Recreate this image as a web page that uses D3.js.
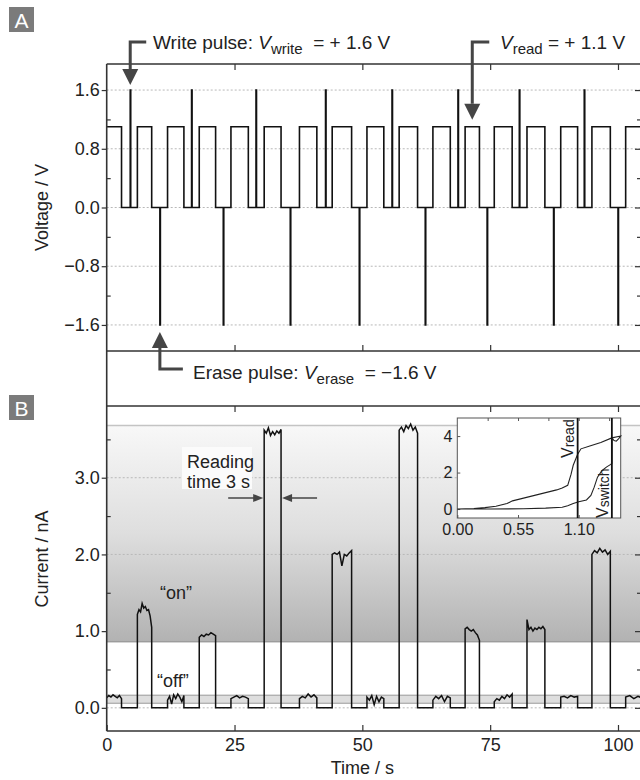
<!DOCTYPE html>
<html>
<head>
<meta charset="utf-8">
<script src="https://cdn.jsdelivr.net/npm/d3@7"></script>
<style>
  body { margin: 0; background: #fff; }
  svg { display: block; font-family: "Liberation Sans", Arial, Helvetica, sans-serif; }
</style>
</head>
<body>
<div id="chart"></div>
<script>
// read windows (s) and pulse times (s)
const readStart = [0, 6.0, 11.9, 18.1, 24.3, 30.8, 37.7, 44.1, 50.9, 57.2, 63.8, 70.1, 75.8, 82.2, 88.8, 94.9, 101.5];
const readEnd   = [2.9, 8.8, 15.1, 21.3, 27.7, 34.1, 41.1, 47.9, 54.2, 60.8, 67.2, 72.9, 79.3, 85.7, 92.1, 98.5, 105.5];
const writeTimes = [4.6, 16.6, 29.2, 42.8, 55.8, 68.7, 80.7, 93.4];
const eraseTimes = [10.4, 22.8, 35.9, 49.4, 62.3, 74.4, 87.4, 100.0];
const vRead = 1.1, vWrite = 1.6, vErase = -1.6;

// current samples (nA)
const readCurrent = [
  [0.13, 0.16, 0.14, 0.17, 0.15, 0.13, 0.16, 0.12],
  [1.22, 1.28, 1.25, 1.36, 1.30, 1.32, 1.27, 1.28, 1.20, 1.05],
  [0.10, 0.15, 0.05, 0.17, 0.12, 0.18, 0.14, 0.08, 0.16],
  [0.92, 0.95, 0.93, 0.96, 0.95, 0.98, 0.96, 0.94],
  [0.12, 0.14, 0.16, 0.13, 0.15, 0.14, 0.12],
  [3.62, 3.58, 3.65, 3.55, 3.60, 3.56, 3.61, 3.58, 3.63],
  [0.12, 0.15, 0.13, 0.18, 0.14, 0.17, 0.13],
  [2.00, 2.02, 2.00, 2.03, 1.85, 2.00, 1.98, 2.02, 2.05],
  [0.14, 0.10, 0.16, 0.04, 0.15, 0.08, 0.14, 0.12],
  [3.62, 3.66, 3.60, 3.68, 3.64, 3.70, 3.62, 3.66, 3.58],
  [0.10, 0.15, 0.12, 0.16, 0.08, 0.15, 0.13],
  [1.03, 1.05, 1.02, 1.00, 1.02, 0.98, 0.95, 0.88],
  [0.08, 0.12, 0.10, 0.15, 0.12, 0.17, 0.14, 0.18],
  [1.15, 1.02, 1.05, 1.00, 1.04, 1.02, 1.05, 1.03, 1.06, 1.02],
  [0.14, 0.15, 0.13, 0.16, 0.14, 0.15],
  [2.00, 2.05, 2.02, 2.08, 2.03, 2.06, 2.00, 2.04],
  [0.14, 0.16, 0.12, 0.15, 0.13, 0.16]
];

// inset I-V loop (V, nA)
const sweepV = [0, 0.3, 0.6, 0.8, 0.95, 1.0, 1.05, 1.1, 1.17, 1.21, 1.24, 1.27, 1.31, 1.35, 1.39, 1.40, 1.40, 1.42, 1.44, 1.46, 1.48,
                1.40, 1.30, 1.20, 1.12, 1.09, 1.07, 1.05, 1.03, 1.0, 0.95, 0.9, 0.8, 0.7, 0.6, 0.5, 0.45, 0.35, 0.25, 0.15, 0];
const sweepI = [0, 0.0, 0.02, 0.05, 0.1, 0.18, 0.3, 0.4, 0.5, 0.75, 1.2, 1.75, 2.1, 2.3, 2.45, 2.5, 3.9, 3.75, 3.72, 3.85, 4.0,
                3.9, 3.65, 3.45, 3.3, 3.0, 2.7, 2.4, 1.9, 1.3, 1.15, 1.05, 0.9, 0.75, 0.6, 0.45, 0.3, 0.15, 0.08, 0.03, 0];

const vTicks = [-1.6, -0.8, 0, 0.8, 1.6];
const vMinor = [-1.2, -0.4, 0.4, 1.2];
const iTicks = [0, 1, 2, 3];
const iMinor = [0.5, 1.5, 2.5, 3.5];
const tTicks = [0, 25, 50, 75, 100];
const insetXTicks = [0, 0.55, 1.10];
const insetYTicks = [0, 2, 4];
const onLevel = 0.86, topLevel = 3.68, offBand = [0.06, 0.165];

const W = 640, H = 780;
const left = 106.7, right = 641;
const svg = d3.select("#chart").append("svg").attr("width", W).attr("height", H);

const x = d3.scaleLinear().domain([0, 104.5]).range([left, right]);
const yV = d3.scaleLinear().domain([-1.955, 1.955]).range([351, 64]);
const yI = d3.scaleLinear().domain([-0.302, 3.935]).range([731, 406]);

const ink = "#333";
const fmt = d => d3.format(".1f")(d).replace("-", "\u2212");

const defs = svg.append("defs");
const grad = defs.append("linearGradient").attr("id", "shade")
  .attr("x1", 0).attr("x2", 0).attr("y1", 0).attr("y2", 1);
grad.append("stop").attr("offset", "0%").attr("stop-color", "#f8f8f8");
grad.append("stop").attr("offset", "50%").attr("stop-color", "#dedede");
grad.append("stop").attr("offset", "100%").attr("stop-color", "#b2b2b2");
defs.append("clipPath").attr("id", "clipA").append("rect")
  .attr("x", left).attr("y", yV.range()[1]).attr("width", right - left).attr("height", yV.range()[0] - yV.range()[1]);
defs.append("clipPath").attr("id", "clipB").append("rect")
  .attr("x", left).attr("y", yI.range()[1]).attr("width", right - left).attr("height", yI.range()[0] - yI.range()[1]);

// ---------- panel B background bands ----------
svg.append("rect").attr("x", left).attr("width", right - left)
  .attr("y", yI(topLevel)).attr("height", yI(onLevel) - yI(topLevel)).attr("fill", "url(#shade)");
svg.append("line").attr("x1", left).attr("x2", right).attr("y1", yI(topLevel)).attr("y2", yI(topLevel))
  .attr("stroke", "#c4c4c4").attr("stroke-width", 1.5);
svg.append("line").attr("x1", left).attr("x2", right).attr("y1", yI(onLevel)).attr("y2", yI(onLevel))
  .attr("stroke", "#8a8a8a").attr("stroke-width", 1);
svg.append("rect").attr("x", left).attr("width", right - left)
  .attr("y", yI(offBand[1])).attr("height", yI(offBand[0]) - yI(offBand[1]))
  .attr("fill", "#dedede").attr("stroke", "#9a9a9a").attr("stroke-width", 1);

// ---------- gridlines ----------
function grid(scale, vals) {
  svg.append("g").selectAll("line").data(vals).join("line")
    .attr("x1", left).attr("x2", right)
    .attr("y1", d => scale(d)).attr("y2", d => scale(d))
    .attr("stroke", "#b8b8b8").attr("stroke-width", 1).attr("stroke-dasharray", "2,2");
}
grid(yV, vTicks);
grid(yI, iTicks);

// ---------- voltage trace ----------
const spikes = writeTimes.map(t => ({t, v: vWrite})).concat(eraseTimes.map(t => ({t, v: vErase})));
const vPts = [];
readStart.forEach((s, i) => {
  if (i > 0) vPts.push([s, 0]);
  vPts.push([s, vRead], [readEnd[i], vRead], [readEnd[i], 0]);
  spikes.filter(p => p.t > readEnd[i] && (i === readStart.length - 1 || p.t < readStart[i + 1]))
    .forEach(p => vPts.push([p.t, 0], [p.t, p.v], [p.t + 0.1, p.v], [p.t + 0.1, 0]));
});
svg.append("path").attr("clip-path", "url(#clipA)")
  .attr("d", d3.line().x(d => x(d[0])).y(d => yV(d[1]))(vPts))
  .attr("fill", "none").attr("stroke", "#111").attr("stroke-width", 1.6);

// ---------- current trace ----------
const iPts = [];
readStart.forEach((s, i) => {
  const vals = readCurrent[i], e = readEnd[i];
  if (i > 0) iPts.push([s, 0]);
  vals.forEach((v, k) => iPts.push([s + k * (e - s) / (vals.length - 1), v]));
  iPts.push([e, 0]);
});
svg.append("path").attr("clip-path", "url(#clipB)")
  .attr("d", d3.line().x(d => x(d[0])).y(d => yI(d[1]))(iPts))
  .attr("fill", "none").attr("stroke", "#111").attr("stroke-width", 1.5);

// ---------- frames and axes ----------
function styleAxis(g) {
  g.select(".domain").remove();
  g.selectAll(".tick line").attr("stroke", ink).attr("stroke-width", 1.2);
  g.selectAll("text").attr("fill", "#222").style("font-size", "18px");
}
// x axes (ticks inward)
svg.append("g").attr("transform", `translate(0,${yI.range()[0]})`)
  .call(d3.axisBottom(x).tickValues(tTicks).tickSizeInner(-6).tickSizeOuter(0).tickPadding(7).tickFormat(d3.format("d")))
  .call(styleAxis);
[[yI.range()[1], d3.axisTop], [yV.range()[1], d3.axisTop], [yV.range()[0], d3.axisBottom]].forEach(([yy, ax]) => {
  svg.append("g").attr("transform", `translate(0,${yy})`)
    .call(ax(x).tickValues(tTicks.slice(1)).tickSizeInner(-6).tickSizeOuter(0).tickFormat(""))
    .call(styleAxis);
});
// y axes
svg.append("g").attr("transform", `translate(${left},0)`)
  .call(d3.axisLeft(yV).tickValues(vTicks).tickSize(5).tickPadding(2).tickFormat(fmt)).call(styleAxis);
svg.append("g").attr("transform", `translate(${left},0)`)
  .call(d3.axisLeft(yV).tickValues(vMinor).tickSize(-4).tickFormat("")).call(styleAxis);
svg.append("g").attr("transform", `translate(${left},0)`)
  .call(d3.axisLeft(yI).tickValues(iTicks).tickSize(5).tickPadding(2).tickFormat(fmt)).call(styleAxis);
svg.append("g").attr("transform", `translate(${left},0)`)
  .call(d3.axisLeft(yI).tickValues(iMinor).tickSize(-4).tickFormat("")).call(styleAxis);
svg.append("g").attr("transform", `translate(${right},0)`)
  .call(d3.axisRight(yV).tickValues(vTicks).tickSize(-6).tickFormat("")).call(styleAxis);
svg.append("g").attr("transform", `translate(${right},0)`)
  .call(d3.axisRight(yV).tickValues(vMinor).tickSize(-4).tickFormat("")).call(styleAxis);
svg.append("g").attr("transform", `translate(${right},0)`)
  .call(d3.axisRight(yI).tickValues(iTicks).tickSize(-6).tickFormat("")).call(styleAxis);
svg.append("g").attr("transform", `translate(${right},0)`)
  .call(d3.axisRight(yI).tickValues(iMinor).tickSize(-4).tickFormat("")).call(styleAxis);

// frame lines
const frame = svg.append("g").attr("stroke", ink).attr("stroke-width", 1.6);
[yV.range()[1], yV.range()[0], yI.range()[1], yI.range()[0]].forEach(yy =>
  frame.append("line").attr("x1", left).attr("x2", right).attr("y1", yy).attr("y2", yy));
frame.append("line").attr("x1", left).attr("x2", left).attr("y1", yV.range()[1]).attr("y2", yI.range()[0]);

// axis titles
svg.append("text").attr("transform", `translate(42,${yV(0)}) rotate(-90)`).attr("text-anchor", "middle")
  .attr("dy", "0.35em").style("font-size", "18px").attr("fill", "#222").text("Voltage / V");
svg.append("text").attr("transform", `translate(42,${(yI(0) + yI(3.935)) / 2 + 2}) rotate(-90)`).attr("text-anchor", "middle")
  .attr("dy", "0.35em").style("font-size", "18px").attr("fill", "#222").text("Current / nA");
svg.append("text").attr("x", x(50)).attr("y", 774).attr("text-anchor", "middle")
  .style("font-size", "18px").attr("fill", "#222").text("Time / s");

// panel letters
[["A", 7], ["B", 395]].forEach(([t, yy]) => {
  svg.append("rect").attr("x", 9).attr("y", yy).attr("width", 25).attr("height", 25).attr("fill", "#7b7b7b");
  svg.append("text").attr("x", 21.5).attr("y", yy + 20.5).attr("text-anchor", "middle")
    .style("font-size", "21px").attr("fill", "#fff").text(t);
});

// ---------- annotations ----------
const arrowInk = "#454545";
function arrow(ax, yTop, tip, dir, hookLen) {
  // vertical arrow with horizontal hook at yTop, head at tip
  const g = svg.append("g");
  const headH = 16, headW = 8;
  const base = tip - dir * headH;
  g.append("path").attr("d", `M${ax + hookLen},${yTop} H${ax} V${base}`)
    .attr("fill", "none").attr("stroke", arrowInk).attr("stroke-width", 3);
  g.append("path").attr("d", `M${ax - headW},${base} L${ax + headW},${base} L${ax},${tip} Z`).attr("fill", arrowInk);
}
arrow(x(writeTimes[0]), 42, yV(vWrite) - 5, 1, 16);
arrow(x(71.5), 42, yV(vRead) - 7, 1, 17);
arrow(x(eraseTimes[0]), 369, yV(vErase) + 7, -1, 23);

function label(xx, yy, pre, sub, post, size) {
  const t = svg.append("text").attr("x", xx).attr("y", yy).style("font-size", size + "px")
    .style("white-space", "pre").attr("fill", "#222");
  t.append("tspan").text(pre);
  t.append("tspan").style("font-style", "italic").text("V");
  t.append("tspan").attr("dy", 5).style("font-size", (size - 4) + "px").text(sub);
  t.append("tspan").attr("dy", -5).text(post);
  return t;
}
label(153, 49, "Write pulse: ", "write", "  = + 1.6 V", 19);
label(500, 49, "", "read", " = + 1.1 V", 19);
label(193, 379, "Erase pulse: ", "erase", "  = \u22121.6 V", 19);

// reading time
svg.append("rect").attr("x", 182).attr("y", 447).attr("width", 70).attr("height", 42).attr("fill", "#fbfbfb");
svg.append("text").attr("x", 187).attr("y", 468).style("font-size", "18px").attr("fill", "#222").text("Reading");
svg.append("text").attr("x", 187).attr("y", 488).style("font-size", "18px").attr("fill", "#222").text("time 3 s");
const ay = 498;
[[x(readStart[5]) - 36, x(readStart[5]) - 1], [x(readEnd[5]) + 36, x(readEnd[5]) + 1]].forEach(([a, b]) => {
  const d = b > a ? 1 : -1;
  svg.append("line").attr("x1", a).attr("x2", b - d * 8).attr("y1", ay).attr("y2", ay)
    .attr("stroke", arrowInk).attr("stroke-width", 1.5);
  svg.append("path").attr("d", `M${b},${ay} L${b - d * 10},${ay - 4} L${b - d * 10},${ay + 4} Z`).attr("fill", arrowInk);
});

svg.append("text").attr("x", 160).attr("y", 599).style("font-size", "18px").attr("fill", "#222").text("\u201Con\u201D");
svg.append("text").attr("x", 157).attr("y", 687).style("font-size", "18px").attr("fill", "#222").text("\u201Coff\u201D");

// ---------- inset ----------
const ix = d3.scaleLinear().domain([0, 1.48]).range([457.3, 620.7]);
const iy = d3.scaleLinear().domain([-0.49, 4.99]).range([518, 418]);
svg.append("rect").attr("x", 457.3).attr("y", 418).attr("width", 620.7 - 457.3).attr("height", 100)
  .attr("fill", "#fff").attr("stroke", "#555").attr("stroke-width", 1);
const inset = svg.append("g");
inset.append("g").attr("transform", "translate(0,518)")
  .call(d3.axisBottom(ix).tickValues(insetXTicks).tickSize(-3).tickPadding(6).tickFormat(d3.format(".2f")))
  .call(g => { g.select(".domain").remove(); g.selectAll(".tick line").attr("stroke", "#555");
               g.selectAll("text").style("font-size", "16px").attr("fill", "#222"); });
inset.append("g").attr("transform", "translate(457.3,0)")
  .call(d3.axisLeft(iy).tickValues(insetYTicks).tickSize(-3).tickPadding(5).tickFormat(d3.format("d")))
  .call(g => { g.select(".domain").remove(); g.selectAll(".tick line").attr("stroke", "#555");
               g.selectAll("text").style("font-size", "16px").attr("fill", "#222"); });
inset.append("g").attr("transform", "translate(0,418)")
  .call(d3.axisTop(ix).tickValues([0.275, 0.55, 0.825, 1.10, 1.375]).tickSize(-3).tickFormat(""))
  .call(g => { g.select(".domain").remove(); g.selectAll(".tick line").attr("stroke", "#555"); });
inset.append("path")
  .attr("d", d3.line().x((d, i) => ix(sweepV[i])).y((d, i) => iy(sweepI[i]))(sweepV))
  .attr("fill", "none").attr("stroke", "#222").attr("stroke-width", 1.1);
[1.09, 1.40].forEach(v => inset.append("line").attr("x1", ix(v)).attr("x2", ix(v))
  .attr("y1", 418).attr("y2", 518).attr("stroke", "#111").attr("stroke-width", 1.8));
function vlab(xx, yy, sub) {
  const t = inset.append("text").attr("transform", `translate(${xx},${yy}) rotate(-90)`)
    .style("font-size", "16px").attr("fill", "#222");
  t.append("tspan").text("V");
  t.append("tspan").attr("dy", 1.5).style("font-size", "14px").text(sub);
}
vlab(ix(1.09) - 5, 458, "read");
vlab(ix(1.40) - 4, 518, "switch");
</script>
</body>
</html>
